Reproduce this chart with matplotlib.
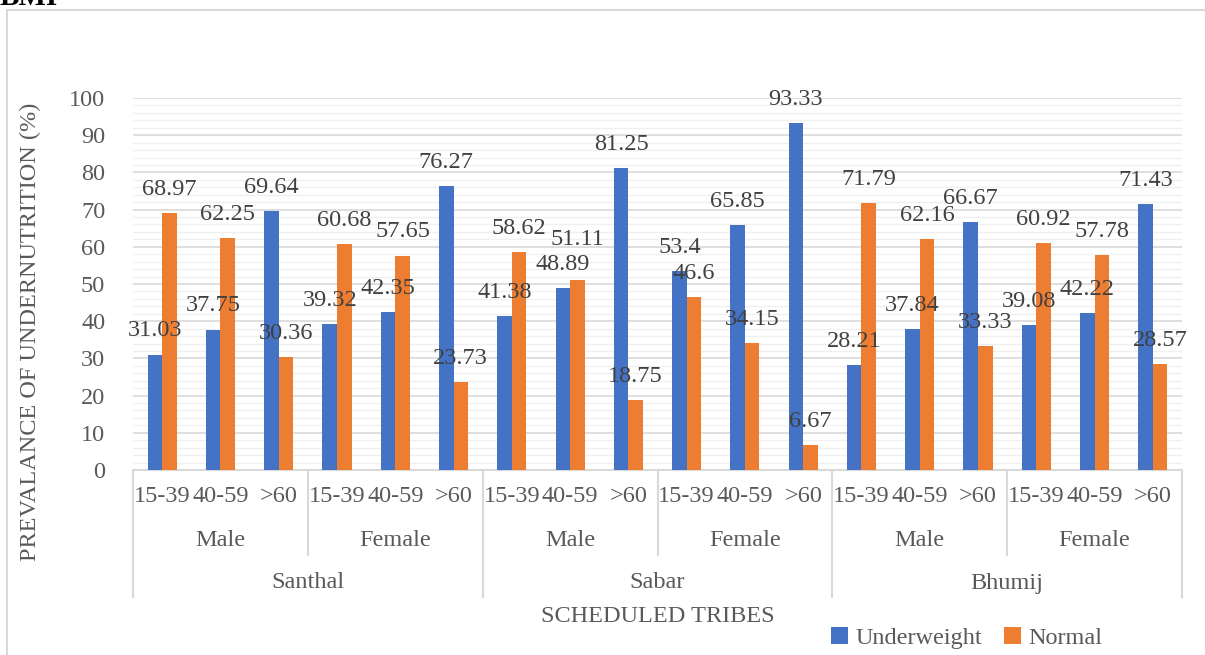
import matplotlib
matplotlib.use("Agg")
import matplotlib.pyplot as plt
from matplotlib.patches import Rectangle
from matplotlib.lines import Line2D
from matplotlib.ticker import MultipleLocator
import numpy as np

# ---- data ----
tribes = ["Santhal", "Sabar", "Bhumij"]
sexes = ["Male", "Female"]
ages = ["15-39", "40-59", ">60"]
underweight = [31.03, 37.75, 69.64, 39.32, 42.35, 76.27,
               41.38, 48.89, 81.25, 53.4, 65.85, 93.33,
               28.21, 37.84, 66.67, 39.08, 42.22, 71.43]
normal = [68.97, 62.25, 30.36, 60.68, 57.65, 23.73,
          58.62, 51.11, 18.75, 46.6, 34.15, 6.67,
          71.79, 62.16, 33.33, 60.92, 57.78, 28.57]
series_names = ["Underweight", "Normal"]
yticks = list(range(0, 101, 10))

plt.rcParams["font.family"] = ["Liberation Serif", "DejaVu Serif"]
TXT = "#595959"
GRID = "#d9d9d9"
BLUE = "#4472C4"
ORANGE = "#ED7D31"
FS = 17.5

W, H = 1205, 655
fig = plt.figure(figsize=(W / 100, H / 100), dpi=100)
L, R, T, B = 133, 1182, 98, 470
ax = fig.add_axes([L / W, 1 - B / H, (R - L) / W, (B - T) / H])

n = len(underweight)
x = np.arange(n)
bw = 0.25
b1 = ax.bar(x - bw / 2, underweight, bw, color=BLUE, label=series_names[0], zorder=3)
b2 = ax.bar(x + bw / 2, normal, bw, color=ORANGE, label=series_names[1], zorder=3)

# data labels; if the two labels of a category would collide, lift the higher one
for i in range(n):
    u, v = underweight[i], normal[i]
    close = abs(u - v) < 4
    for rect, val, other in ((b1[i], u, v), (b2[i], v, u)):
        off = 17
        if close and val > other:
            off = 29
        ax.annotate(f"{val:g}", (rect.get_x() + rect.get_width() / 2, val),
                    xytext=(0, off), textcoords="offset points",
                    ha="center", va="center", fontsize=FS, color="#404040", zorder=4)

ax.set_xlim(-0.5, n - 0.5)
ax.set_ylim(0, 100)
ax.set_yticks(yticks)
ax.yaxis.set_minor_locator(MultipleLocator(2))
ax.grid(axis="y", which="major", color=GRID, linewidth=1.2, zorder=0)
ax.grid(axis="y", which="minor", color="#f0f0f0", linewidth=1.0, zorder=0)
ax.set_axisbelow(True)
for s in ("top", "right", "left"):
    ax.spines[s].set_visible(False)
ax.spines["bottom"].set_color(GRID)
ax.spines["bottom"].set_linewidth(1.5)
ax.tick_params(axis="y", which="both", length=0, labelsize=FS, labelcolor=TXT, pad=20)
ax.tick_params(axis="x", which="both", length=0, labelbottom=False)

# multi-level category axis
tr = ax.get_xaxis_transform()
ah = B - T
def yf(py):
    return (B - py) / ah

age_y, sex_y, tribe_y = yf(497), yf(541), yf(583)
sex_depth, tribe_depth = yf(555), yf(597)

for i in range(n):
    ax.text(x[i], age_y, ages[i % 3], transform=tr, ha="center", va="center",
            fontsize=FS, color=TXT)
for j in range(len(tribes) * len(sexes)):
    ax.text(3 * j + 1, sex_y, sexes[j % 2], transform=tr, ha="center", va="center",
            fontsize=FS, color=TXT)
for k, t in enumerate(tribes):
    ax.text(6 * k + 2.5, tribe_y, t, transform=tr, ha="center", va="center",
            fontsize=FS, color=TXT)

for j in range(len(tribes) * len(sexes) + 1):
    xb = 3 * j - 0.5
    depth = tribe_depth if j % 2 == 0 else sex_depth
    ax.add_line(Line2D([xb, xb], [0, depth], transform=tr, color=GRID,
                       linewidth=1.5, clip_on=False))

ax.text(0.5, yf(616), "SCHEDULED TRIBES", transform=ax.transAxes, ha="center",
        va="center", fontsize=FS, color=TXT)
fig.text(30 / W, 1 - 332 / H, "PREVALANCE OF UNDERNUTRITION (%)", rotation=90,
         ha="center", va="center", fontsize=FS, color=TXT)

leg = fig.legend(handles=[b1, b2], labels=series_names, loc="center",
                 bbox_to_anchor=(967 / W, 1 - 638 / H), ncol=2, frameon=False,
                 fontsize=FS, handlelength=0.7, handleheight=0.7,
                 handletextpad=0.3, columnspacing=0.9, borderpad=0)
for t in leg.get_texts():
    t.set_color(TXT)

# outer border & cut-off title
fig.patches.append(Rectangle((7 / W, -0.2), 1.5, 1 - 10 / H + 0.2, transform=fig.transFigure,
                             fill=False, edgecolor=GRID, linewidth=1.5))
fig.text(0.0, 1 - 5 / H, "BMI", ha="left", va="baseline", fontsize=21,
         fontweight="bold", color="black")

fig.savefig("out.png", dpi=100)
